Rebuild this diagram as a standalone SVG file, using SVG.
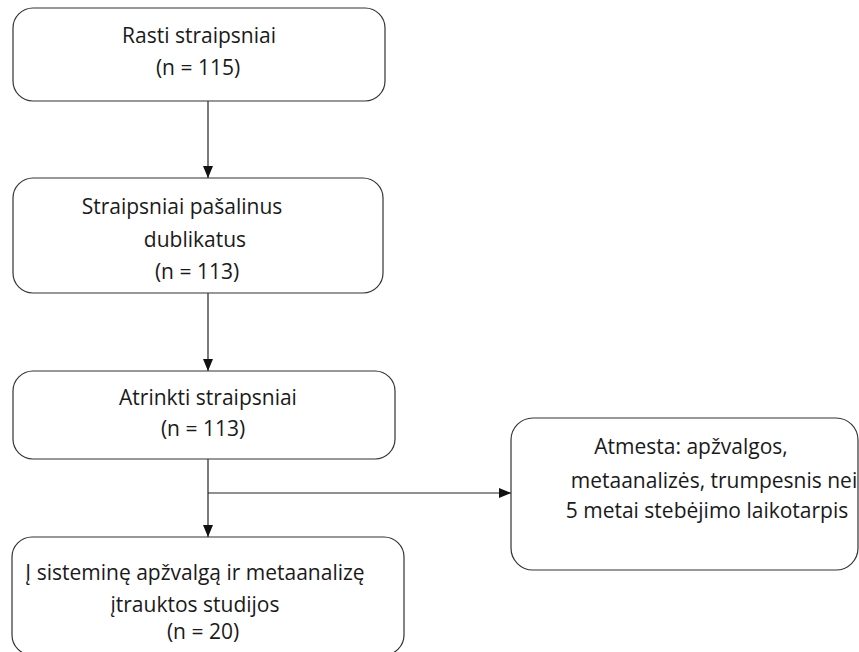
<svg xmlns="http://www.w3.org/2000/svg" width="859" height="652" viewBox="0 0 859 652">
<defs>
<style>
.box{fill:#fff;stroke:#333;stroke-width:1.2}
.t{font-family:"Open Sans","Liberation Sans",sans-serif;font-size:21px;fill:#1a1a1a;text-anchor:middle}
.c{stroke:#222;stroke-width:1.2;fill:none}
</style>
<marker id="ah" viewBox="0 0 12 10" refX="12" refY="5" markerWidth="12" markerHeight="10" markerUnits="userSpaceOnUse" orient="auto">
<path d="M0,0 L12,5 L0,10 Z" fill="#111"/>
</marker>
</defs>
<rect width="859" height="652" fill="#fff"/>
<g id="connectors">
<line class="c" x1="208" y1="101" x2="208" y2="178" marker-end="url(#ah)"/>
<line class="c" x1="208" y1="293" x2="208" y2="371" marker-end="url(#ah)"/>
<line class="c" x1="208" y1="459" x2="208" y2="537" marker-end="url(#ah)"/>
<line class="c" x1="208" y1="493" x2="511" y2="493" marker-end="url(#ah)"/>
</g>
<g id="n1">
<rect class="box" x="13" y="8" width="372" height="93" rx="20"/>
<text class="t" x="199" y="43">Rasti straipsniai</text>
<text class="t" x="198" y="75">(n = 115)</text>
</g>
<g id="n2">
<rect class="box" x="13" y="178" width="370" height="115" rx="20"/>
<text class="t" x="182" y="214">Straipsniai pašalinus</text>
<text class="t" x="195" y="247">dublikatus</text>
<text class="t" x="197" y="279">(n = 113)</text>
</g>
<g id="n3">
<rect class="box" x="13" y="371" width="382" height="88" rx="20"/>
<text class="t" x="208" y="405">Atrinkti straipsniai</text>
<text class="t" x="203" y="436">(n = 113)</text>
</g>
<g id="n4">
<rect class="box" x="12" y="537" width="392" height="118" rx="20"/>
<text class="t" x="195" y="580">Į sisteminę apžvalgą ir metaanalizę</text>
<text class="t" x="195" y="612">įtrauktos studijos</text>
<text class="t" x="203" y="639">(n = 20)</text>
</g>
<g id="n5">
<rect class="box" x="511" y="418" width="347" height="152" rx="22"/>
<text class="t" x="691" y="454">Atmesta: apžvalgos,</text>
<text class="t" x="714" y="488">metaanalizės, trumpesnis nei</text>
<text class="t" x="707" y="518">5 metai stebėjimo laikotarpis</text>
</g>
</svg>
